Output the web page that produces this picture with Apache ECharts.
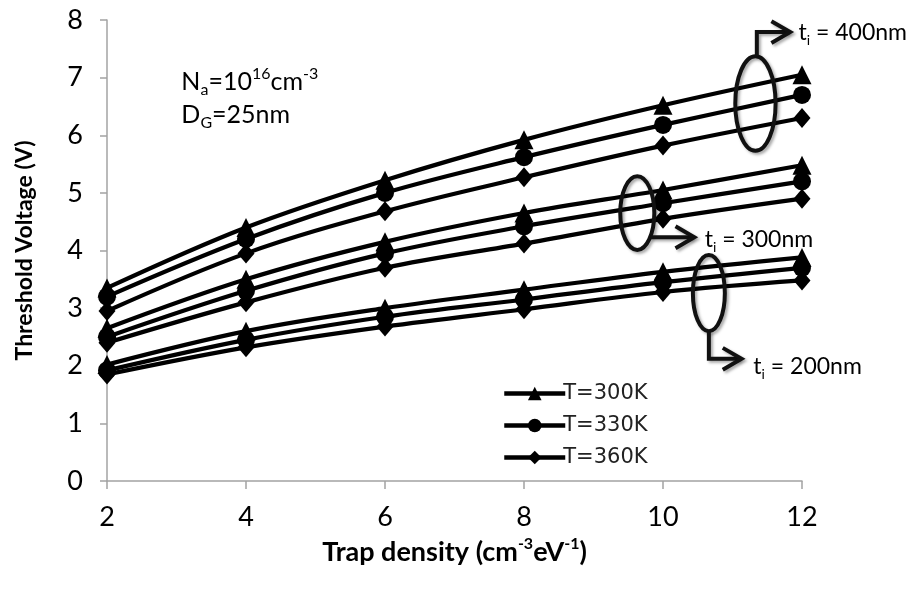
<!DOCTYPE html>
<html>
<head>
<meta charset="utf-8">
<script src="https://cdn.jsdelivr.net/npm/echarts@6/dist/echarts.min.js"></script>
<style>
  html, body { margin: 0; padding: 0; background: #fff; }
  #chart { width: 912px; height: 593px; }
</style>
</head>
<body>
<div id="chart"></div>
<script>
// Trap density values on the x axis
const trapDensity = [2, 4, 6, 8, 10, 12];

// Threshold voltage (V), insulator thickness 400 nm
const ti400_T300 = [3.35, 4.40, 5.22, 5.92, 6.52, 7.05];
const ti400_T330 = [3.20, 4.20, 5.00, 5.62, 6.18, 6.70];
const ti400_T360 = [2.95, 3.95, 4.68, 5.27, 5.82, 6.30];

// Threshold voltage (V), insulator thickness 300 nm
const ti300_T300 = [2.65, 3.50, 4.15, 4.65, 5.05, 5.48];
const ti300_T330 = [2.50, 3.30, 3.95, 4.42, 4.82, 5.20];
const ti300_T360 = [2.40, 3.10, 3.70, 4.12, 4.55, 4.90];

// Threshold voltage (V), insulator thickness 200 nm
const ti200_T300 = [2.02, 2.60, 3.00, 3.32, 3.63, 3.88];
const ti200_T330 = [1.92, 2.45, 2.85, 3.15, 3.45, 3.70];
const ti200_T360 = [1.85, 2.32, 2.68, 2.98, 3.28, 3.48];

const tempNames = ['T=300K', 'T=330K', 'T=360K'];
const tempSymbols = ['triangle', 'circle', 'diamond'];
const tempSymbolSizes = [19, 18, [17, 20]];

const groups = [
  [ti400_T300, ti400_T330, ti400_T360],
  [ti300_T300, ti300_T330, ti300_T360],
  [ti200_T300, ti200_T330, ti200_T360]
];

const FONT = 'Lato';
const AXIS_GRAY = '#a3a3a3';

const series = [];
groups.forEach(function (grp) {
  grp.forEach(function (vals, k) {
    series.push({
      type: 'line',
      name: tempNames[k],
      data: trapDensity.map(function (x, i) { return [x, vals[i]]; }),
      smooth: 0.35,
      symbol: tempSymbols[k],
      symbolSize: tempSymbolSizes[k],
      showAllSymbol: true,
      lineStyle: { color: '#000', width: 4.2 },
      itemStyle: { color: '#000' },
      emphasis: { disabled: true },
      animation: false
    });
  });
});

const chart = echarts.init(document.getElementById('chart'), null, { renderer: 'canvas' });

chart.setOption({
  animation: false,
  backgroundColor: '#fff',
  grid: { left: 107, right: 110, top: 20, bottom: 112, containLabel: false },
  xAxis: {
    type: 'value',
    min: 2, max: 12, interval: 2,
    name: 'Trap density (cm{sup|-3}eV{sup|-1})',
    nameLocation: 'middle',
    nameGap: 55,
    nameTextStyle: {
      fontFamily: FONT, fontWeight: 'bold', fontSize: 27, color: '#000',
      lineHeight: 32,
      rich: {
        sup: { fontFamily: FONT, fontWeight: 'bold', fontSize: 16, color: '#000', verticalAlign: 'top', lineHeight: 32, padding: [0, 0, 10, 0] }
      }
    },
    axisLine: { show: true, lineStyle: { color: AXIS_GRAY, width: 1.5 } },
    axisTick: { show: true, length: 8, lineStyle: { color: AXIS_GRAY, width: 1.5 } },
    axisLabel: { fontFamily: FONT, fontSize: 27, color: '#000', margin: 23 },
    splitLine: { show: false }
  },
  yAxis: {
    type: 'value',
    min: 0, max: 8, interval: 1,
    name: 'Threshold Voltage (V)',
    nameLocation: 'middle',
    nameGap: 71,
    nameTextStyle: { fontFamily: FONT, fontWeight: 'bold', fontSize: 23, color: '#000' },
    axisLine: { show: true, lineStyle: { color: AXIS_GRAY, width: 1.5 } },
    axisTick: { show: true, length: 7, lineStyle: { color: AXIS_GRAY, width: 1.5 } },
    axisLabel: { fontFamily: FONT, fontSize: 27, color: '#000', margin: 24 },
    splitLine: { show: false }
  },
  legend: {
    data: tempNames,
    orient: 'vertical',
    left: 497,
    top: 378,
    itemWidth: 61,
    itemHeight: 17,
    itemGap: 11,
    selectedMode: false,
    lineStyle: { width: 4.5 },
    textStyle: { fontFamily: 'DejaVu Sans', fontSize: 21, lineHeight: 20, color: '#222', padding: [0, 0, 0, -7] }
  },
  series: series
});

// Annotation geometry in data coordinates, converted to pixels
function px(x, y) { return chart.convertToPixel({ gridIndex: 0 }, [x, y]); }
function pxLen(dx, dy) {
  const a = px(2, 0), b = px(2 + dx, dy);
  return [Math.abs(b[0] - a[0]), Math.abs(a[1] - b[1])];
}

const ink = '#111';
const shadow = { shadowBlur: 3, shadowColor: 'rgba(0,0,0,0.35)', shadowOffsetX: 2, shadowOffsetY: 2 };

function ellipse(cx, cy, rx, ry) {
  const c = px(cx, cy), r = pxLen(rx, ry);
  return {
    type: 'ellipse', z: 100,
    shape: { cx: c[0], cy: c[1], rx: r[0], ry: r[1] },
    style: Object.assign({ fill: 'none', stroke: ink, lineWidth: 4 }, shadow)
  };
}
function path(points) {
  return {
    type: 'polyline', z: 100,
    shape: { points: points.map(function (p) { return px(p[0], p[1]); }) },
    style: Object.assign({ fill: 'none', stroke: ink, lineWidth: 4, lineJoin: 'miter' }, shadow)
  };
}
// open arrow head pointing right, tip at (x, y)
function headRight(x, y) {
  const back = 0.27, half = 0.19;
  return path([[x - back, y + half], [x, y], [x - back, y - half]]);
}
function label(x, y, text, rich) {
  const p = px(x, y);
  return {
    type: 'text', z: 110,
    style: { x: p[0], y: p[1], text: text, rich: rich, verticalAlign: 'middle', align: 'left' }
  };
}

const tiRich = {
  t: { fontFamily: FONT, fontSize: 23, color: '#000', lineHeight: 30 },
  s: { fontFamily: FONT, fontSize: 14, color: '#000', lineHeight: 30, verticalAlign: 'bottom', padding: [8, 0, 0, 0] }
};
const paramRich = {
  t: { fontFamily: FONT, fontSize: 25, color: '#000', lineHeight: 32 },
  s: { fontFamily: FONT, fontSize: 16, color: '#000', lineHeight: 32, verticalAlign: 'bottom', padding: [8, 0, 0, 0] },
  p: { fontFamily: FONT, fontSize: 16, color: '#000', lineHeight: 32, verticalAlign: 'top', padding: [0, 0, 8, 0] }
};

chart.setOption({
  graphic: [
    // t_i = 400 nm group
    ellipse(11.33, 6.55, 0.29, 0.82),
    path([[11.35, 7.37], [11.35, 7.79], [11.80, 7.79]]),
    headRight(11.83, 7.79),
    label(11.95, 7.78, '{t|t}{s|i}{t| = 400nm}', tiRich),
    // t_i = 300 nm group
    ellipse(9.63, 4.65, 0.245, 0.64),
    path([[9.82, 4.23], [10.42, 4.23]]),
    headRight(10.45, 4.23),
    label(10.6, 4.19, '{t|t}{s|i}{t| = 300nm}', tiRich),
    // t_i = 200 nm group
    ellipse(10.66, 3.26, 0.23, 0.66),
    path([[10.66, 2.6], [10.66, 2.12], [11.1, 2.12]]),
    headRight(11.13, 2.12),
    label(11.3, 1.98, '{t|t}{s|i}{t| = 200nm}', tiRich),
    // device parameters
    label(3.07, 6.93, '{t|N}{s|a}{t|=10}{p|16}{t|cm}{p|-3}', paramRich),
    label(3.07, 6.35, '{t|D}{s|G}{t|=25nm}', paramRich)
  ]
});
</script>
</body>
</html>
